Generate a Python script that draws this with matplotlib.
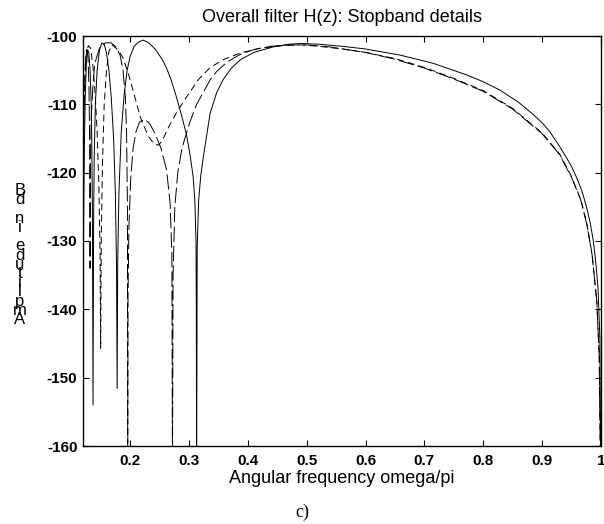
import matplotlib
matplotlib.use("Agg")
import matplotlib.pyplot as plt

plt.rcParams['font.family'] = ['Liberation Sans', 'DejaVu Sans']
plt.rcParams['lines.scale_dashes'] = False
plt.rcParams['axes.unicode_minus'] = False

# ---------------- data ----------------
# solid curve
s_x = [0.1200, 0.1205, 0.1210, 0.1220, 0.1240, 0.1260, 0.1280, 0.1300, 0.1320, 0.1340,
       0.1350, 0.1360, 0.1370, 0.1380, 0.1390, 0.1410, 0.1440, 0.1480, 0.1520, 0.1560,
       0.1600, 0.1640, 0.1680, 0.1720, 0.1750, 0.1770, 0.1780, 0.1790, 0.1810, 0.1850,
       0.1900, 0.1950, 0.2000, 0.2070, 0.2140, 0.2220, 0.2300, 0.2380, 0.2450, 0.2550,
       0.2620, 0.2700, 0.2790, 0.2880, 0.2960, 0.3020, 0.3070, 0.3100, 0.3120, 0.3125,
       0.3130, 0.3140, 0.3165, 0.3200, 0.3244, 0.3360, 0.3470, 0.3580, 0.3720, 0.3870,
       0.4100, 0.4430, 0.4700, 0.4900, 0.5200, 0.5600, 0.6000, 0.6590, 0.7150, 0.7720,
       0.8000, 0.8280, 0.8600, 0.8850, 0.9000, 0.9130, 0.9300, 0.9420, 0.9500, 0.9590,
       0.9680, 0.9760, 0.9820, 0.9870, 0.9910, 0.9950, 0.9980, 1.0000]
s_y = [-160.0, -140.0, -128.0, -118.0, -108.0, -103.5, -102.0, -102.5, -105.0, -110.0,
       -116.0, -126.0, -154.0, -128.0, -118.0, -110.0, -105.0, -102.0, -101.0, -101.2,
       -102.5, -105.0, -109.0, -115.0, -123.0, -134.0, -151.6, -133.0, -123.0, -114.0,
       -108.5, -105.0, -103.0, -101.5, -100.9, -100.6, -100.9, -101.5, -102.2, -103.5,
       -104.7, -106.5, -109.0, -111.8, -114.5, -117.5, -120.5, -124.0, -130.0, -140.0,
       -165.0, -131.0, -124.0, -120.5, -117.7, -111.3, -108.3, -106.4, -104.7, -103.5,
       -102.4, -101.6, -101.2, -101.1, -101.2, -101.5, -101.9, -102.8, -104.0, -105.7,
       -106.7, -107.9, -109.7, -111.5, -112.7, -114.0, -116.2, -117.9, -119.1, -120.8,
       -122.8, -125.2, -127.5, -130.0, -133.0, -137.0, -144.0, -170.0]

# short-dash curve
d_x = [0.1200, 0.1220, 0.1250, 0.1290, 0.1330, 0.1370, 0.1410, 0.1440, 0.1470, 0.1490,
       0.1500, 0.1510, 0.1530, 0.1560, 0.1600, 0.1640, 0.1690, 0.1740, 0.1810, 0.1880,
       0.1980, 0.2080, 0.2170, 0.2310, 0.2400, 0.2480, 0.2550, 0.2620, 0.2700, 0.2790,
       0.2960, 0.3160, 0.3360, 0.3600, 0.3870, 0.4200, 0.4600, 0.4900, 0.5200, 0.5600,
       0.6000, 0.6500, 0.7000, 0.7500, 0.8000, 0.8500, 0.9000, 0.9300, 0.9500, 0.9660,
       0.9760, 0.9850, 0.9930, 0.9970, 1.0000]
d_y = [-118.0, -108.0, -103.0, -101.4, -101.8, -104.5, -109.0, -114.0, -122.0, -132.0,
       -145.7, -130.0, -119.0, -110.0, -105.0, -102.3, -101.3, -101.6, -102.2, -103.2,
       -105.8, -108.9, -111.8, -114.7, -115.7, -116.0, -115.3, -113.9, -112.6, -111.2,
       -108.9, -106.4, -104.6, -103.4, -102.5, -101.8, -101.4, -101.3, -101.5, -101.9,
       -102.4, -103.3, -104.6, -106.2, -108.0, -110.6, -114.2, -117.3, -120.6, -124.0,
       -127.5, -132.0, -139.0, -147.0, -170.0]

# long-dash curve
l_x = [0.1200, 0.1205, 0.1220, 0.1240, 0.1260, 0.1285, 0.1300, 0.1310, 0.1315, 0.1320,
       0.1325, 0.1340, 0.1370, 0.1400, 0.1480, 0.1580, 0.1680, 0.1760, 0.1830, 0.1880,
       0.1920, 0.1940, 0.1955, 0.1960, 0.1965, 0.1980, 0.2010, 0.2050, 0.2100, 0.2160,
       0.2250, 0.2330, 0.2420, 0.2520, 0.2620, 0.2680, 0.2710, 0.2720, 0.2730, 0.2760,
       0.2810, 0.2880, 0.2930, 0.3020, 0.3130, 0.3240, 0.3360, 0.3470, 0.3650, 0.3870,
       0.4100, 0.4400, 0.4700, 0.5000, 0.5400, 0.6000, 0.6500, 0.7000, 0.7500, 0.8000,
       0.8500, 0.9000, 0.9300, 0.9500, 0.9660, 0.9760, 0.9850, 0.9930, 0.9970, 1.0000]
l_y = [-145.0, -125.0, -110.0, -104.0, -102.0, -103.0, -107.0, -113.0, -120.0, -134.0,
       -120.0, -112.0, -107.0, -104.0, -101.8, -101.0, -101.0, -101.6, -102.8, -105.0,
       -109.0, -114.0, -125.0, -165.0, -138.0, -128.0, -121.0, -116.5, -114.0, -112.6,
       -112.2, -112.8, -114.2, -116.3, -119.6, -124.5, -132.0, -165.0, -135.0, -125.0,
       -120.0, -116.5, -115.0, -112.5, -110.0, -108.3, -106.4, -105.2, -103.8, -102.7,
       -102.0, -101.5, -101.3, -101.3, -101.6, -102.4, -103.4, -104.7, -106.3, -108.1,
       -110.7, -114.3, -117.4, -120.7, -124.1, -127.6, -132.1, -139.0, -147.0, -170.0]

x_ticks = [0.2, 0.3, 0.4, 0.5, 0.6, 0.7, 0.8, 0.9, 1.0]
x_tick_labels = ['0.2', '0.3', '0.4', '0.5', '0.6', '0.7', '0.8', '0.9', '1']
y_ticks = [-160, -150, -140, -130, -120, -110, -100]

# y label as it shows up in the picture: upright glyphs stacked, read bottom to top
ylabel_text = 'Amplitude in dB'

# ---------------- figure ----------------
fig = plt.figure(figsize=(6.04, 5.24), dpi=100)
ax = fig.add_axes([83 / 604, 78 / 524, 518 / 604, 410 / 524])

ax.plot(s_x, s_y, color='black', lw=0.7, ls='-')
ax.plot(d_x, d_y, color='black', lw=0.7, ls=(0, (5, 3)))
ax.plot(l_x, l_y, color='black', lw=0.7, ls=(0, (11, 3)))

ax.set_xlim(0.12, 1.0)
ax.set_ylim(-160, -100)
ax.set_xticks(x_ticks)
ax.set_xticklabels(x_tick_labels)
ax.set_yticks(y_ticks)
for lab in ax.get_xticklabels() + ax.get_yticklabels():
    lab.set_fontweight('bold')
    lab.set_fontsize(11)
ax.tick_params(direction='in', length=4, width=0.8, top=True, right=True)
ax.tick_params(axis='y', pad=4)
ax.tick_params(axis='x', pad=6)
for sp in ax.spines.values():
    sp.set_linewidth(1.0)

ax.set_title('Overall filter H(z): Stopband details', fontsize=13, pad=10)
ax.set_xlabel('Angular frequency omega/pi', fontsize=13, labelpad=1)

# one multi-line text, glyphs packed tightly like the reference
stacked = '\n'.join(reversed(list(ylabel_text)))
fig.text(20 / 604, 1 - 255 / 524, stacked, fontsize=12, ha='center', va='center',
         linespacing=0.52)

fig.text(302 / 604, 1 - 512 / 524, 'c)', fontsize=13, family='Liberation Serif',
         ha='center', va='center')

fig.savefig('out.png', dpi=100)
